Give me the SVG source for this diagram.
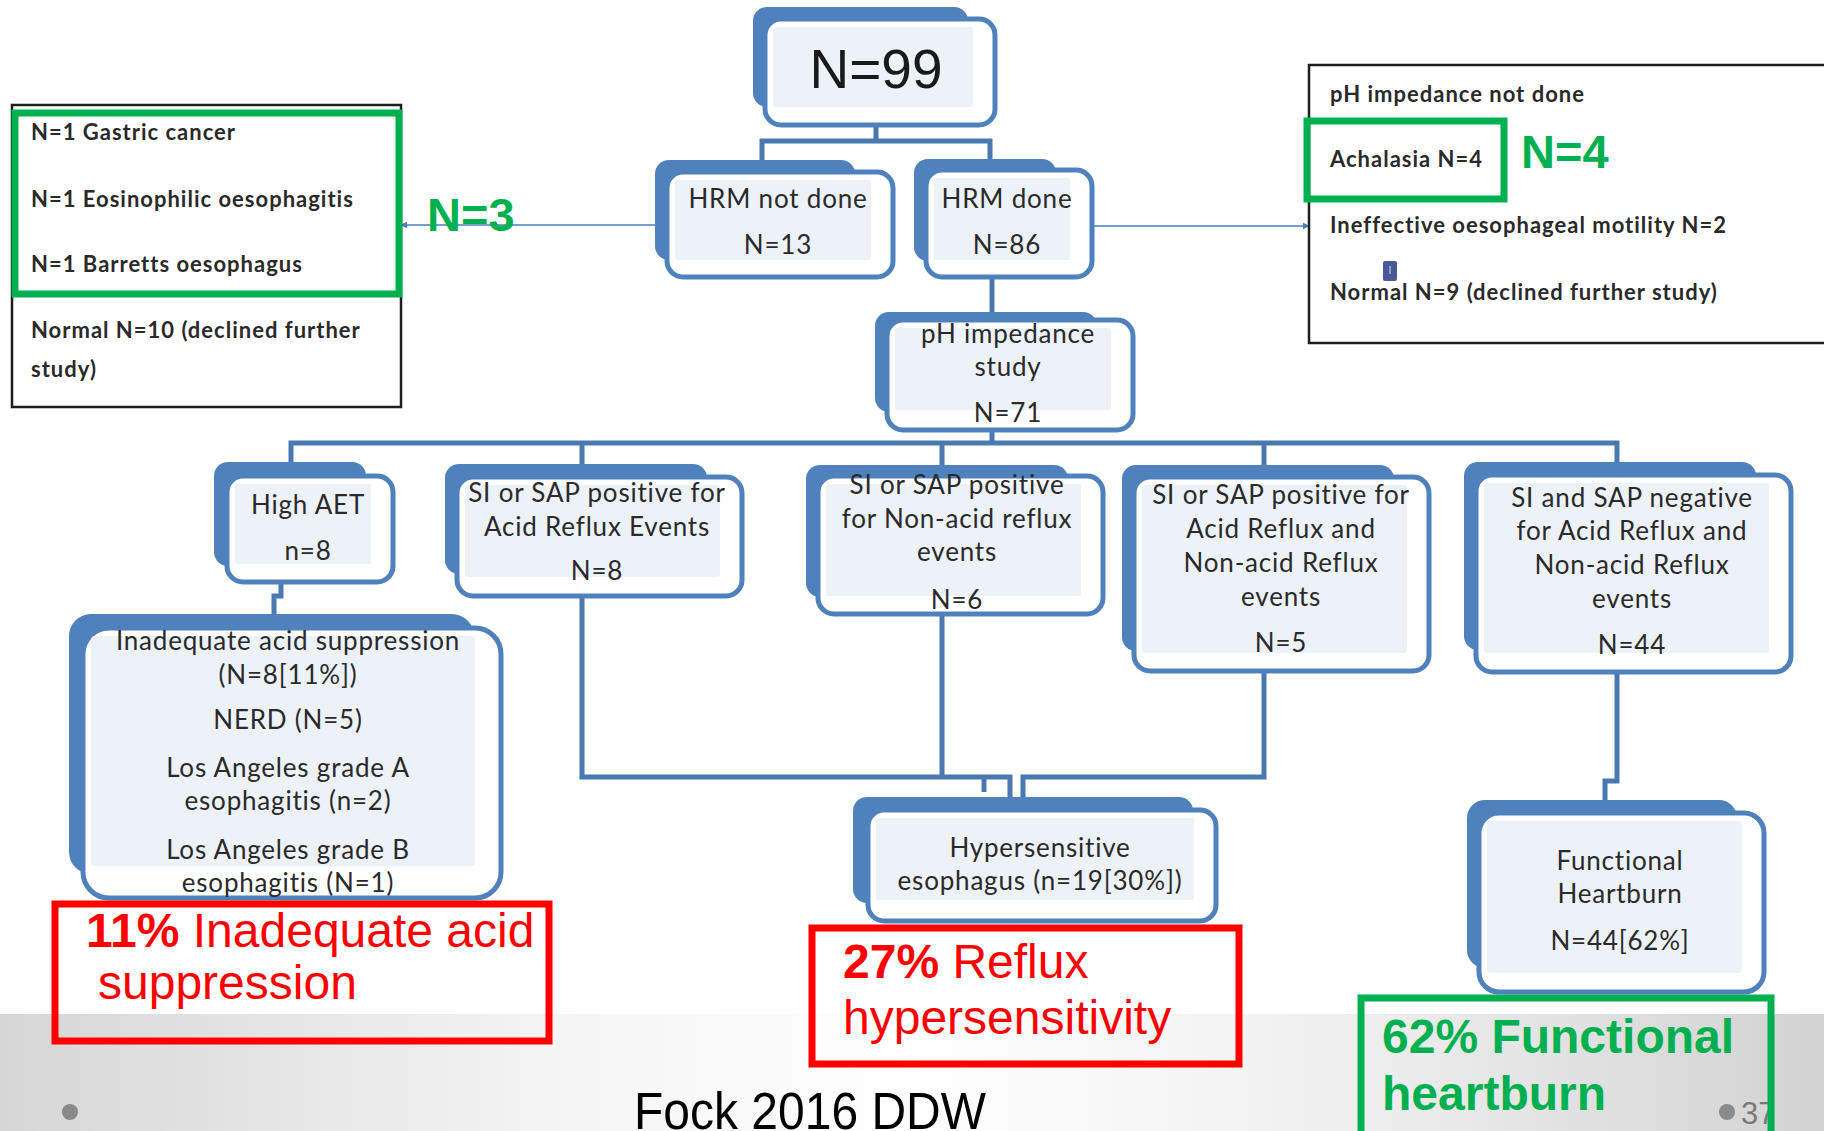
<svg xmlns="http://www.w3.org/2000/svg" width="1824" height="1131" viewBox="0 0 1824 1131">
<defs>
<linearGradient id="band" x1="0" y1="0" x2="1" y2="0">
<stop offset="0" stop-color="#d6d6d6"/>
<stop offset="0.3" stop-color="#f4f4f4"/>
<stop offset="0.5" stop-color="#ffffff"/>
<stop offset="0.75" stop-color="#eeeeee"/>
<stop offset="1" stop-color="#d2d2d2"/>
</linearGradient>
<marker id="arr" viewBox="0 0 10 10" refX="9" refY="5" markerWidth="7" markerHeight="7" orient="auto" markerUnits="userSpaceOnUse">
<path d="M0,0 L10,5 L0,10 z" fill="#4a7ebb"/>
</marker>
<style>
.bk{fill:#4f81bd}
.fr{fill:#ffffff;stroke:#4f81bd;stroke-width:5}
.in{fill:#edf1f8}
.nt{font-family:Lato,"Liberation Sans",sans-serif;font-size:26px;letter-spacing:0.8px;fill:#2a2a2a;text-anchor:middle}
.st{font-family:Lato,"Liberation Sans",sans-serif;font-size:22px;letter-spacing:1px;font-weight:bold;fill:#2a2a2a}
.con{fill:none;stroke:#4a78b2;stroke-width:5}
.thin{fill:none;stroke:#4a7ebb;stroke-width:1.6}
.gbox{fill:none;stroke:#00b050;stroke-width:7}
.rbox{fill:none;stroke:#ff0000;stroke-width:7}
.gt{font-family:"Liberation Sans",Arial,sans-serif;font-weight:bold;fill:#00b050}
.rt{font-family:"Liberation Sans",Arial,sans-serif;font-size:48px;fill:#ff0000}
</style>
</defs>

<rect x="0" y="0" width="1824" height="1131" fill="#ffffff"/>
<rect x="0" y="1014" width="1824" height="117" fill="url(#band)"/>

<g id="connectors">
<path class="con" d="M876,125 V141 M762,160 V141 H990 V160"/>
<path class="con" d="M992,277 V314"/>
<path class="con" d="M992,430 V443 M291,463 V443 H1617 V463 M582,443 V464 M942,443 V466 M1264,443 V466"/>
<path class="con" d="M281,582 V596 H274 V617"/>
<path class="con" d="M582,596 V777 H1010 V797 M942,614 V777 M984,777 V792"/>
<path class="con" d="M1264,671 V777 H1023 V797"/>
<path class="con" d="M1617,672 V781 H1605 V801"/>
<path class="thin" d="M655,225 H401" marker-end="url(#arr)"/>
<path class="thin" d="M1092,226 H1309" marker-end="url(#arr)"/>
</g>

<g id="n99">
<rect class="bk" x="753" y="7" width="215" height="100" rx="14"/>
<rect class="fr" x="765" y="19" width="230" height="106" rx="16"/>
<rect class="in" x="773" y="27" width="200" height="80" rx="3"/>
<text x="876" y="88" font-family="'Liberation Sans',Arial,sans-serif" font-size="55" fill="#1a1a1a" text-anchor="middle">N=99</text>
</g>

<g id="hrm_not_done">
<rect class="bk" x="655" y="160" width="200" height="100" rx="14"/>
<rect class="fr" x="667" y="172" width="226" height="105" rx="16"/>
<rect class="in" x="675" y="180" width="196" height="80" rx="3"/>
<text class="nt" x="778" y="208">HRM not done</text>
<text class="nt" x="778" y="254">N=13</text>
</g>

<g id="hrm_done">
<rect class="bk" x="914" y="159" width="142" height="102" rx="14"/>
<rect class="fr" x="926" y="170" width="166" height="107" rx="16"/>
<rect class="in" x="934" y="178" width="136" height="82" rx="3"/>
<text class="nt" x="1007" y="208">HRM done</text>
<text class="nt" x="1007" y="254">N=86</text>
</g>

<g id="ph_study">
<rect class="bk" x="875" y="312" width="222" height="100" rx="14"/>
<rect class="fr" x="887" y="320" width="246" height="110" rx="16"/>
<rect class="in" x="895" y="328" width="216" height="82" rx="3"/>
<text class="nt" x="1008" y="343">pH impedance</text>
<text class="nt" x="1008" y="376">study</text>
<text class="nt" x="1008" y="422">N=71</text>
</g>

<g id="high_aet">
<rect class="bk" x="214" y="462" width="152" height="104" rx="14"/>
<rect class="fr" x="227" y="476" width="166" height="106" rx="16"/>
<rect class="in" x="235" y="484" width="136" height="80" rx="3"/>
<text class="nt" x="308" y="514">High AET</text>
<text class="nt" x="308" y="560">n=8</text>
</g>

<g id="sap_acid">
<rect class="bk" x="445" y="464" width="262" height="110" rx="14"/>
<rect class="fr" x="457" y="477" width="285" height="119" rx="16"/>
<rect class="in" x="465" y="485" width="255" height="92" rx="3"/>
<text class="nt" x="597" y="502">SI or SAP positive for</text>
<text class="nt" x="597" y="536">Acid Reflux Events</text>
<text class="nt" x="597" y="580">N=8</text>
</g>

<g id="sap_nonacid">
<rect class="bk" x="806" y="465" width="262" height="132" rx="14"/>
<rect class="fr" x="818" y="476" width="285" height="138" rx="16"/>
<rect class="in" x="826" y="484" width="255" height="112" rx="3"/>
<text class="nt" x="957" y="494">SI or SAP positive</text>
<text class="nt" x="957" y="528">for Non-acid reflux</text>
<text class="nt" x="957" y="561">events</text>
<text class="nt" x="957" y="609">N=6</text>
</g>

<g id="sap_both">
<rect class="bk" x="1122" y="465" width="272" height="186" rx="14"/>
<rect class="fr" x="1134" y="477" width="295" height="194" rx="16"/>
<rect class="in" x="1142" y="485" width="265" height="168" rx="3"/>
<text class="nt" x="1281" y="504">SI or SAP positive for</text>
<text class="nt" x="1281" y="538">Acid Reflux  and</text>
<text class="nt" x="1281" y="572">Non-acid Reflux</text>
<text class="nt" x="1281" y="606">events</text>
<text class="nt" x="1281" y="652">N=5</text>
</g>

<g id="sap_neg">
<rect class="bk" x="1464" y="462" width="292" height="188" rx="14"/>
<rect class="fr" x="1476" y="475" width="315" height="197" rx="16"/>
<rect class="in" x="1484" y="483" width="285" height="170" rx="3"/>
<text class="nt" x="1632" y="507">SI and SAP negative</text>
<text class="nt" x="1632" y="540">for Acid Reflux and</text>
<text class="nt" x="1632" y="574">Non-acid Reflux</text>
<text class="nt" x="1632" y="608">events</text>
<text class="nt" x="1632" y="654">N=44</text>
</g>

<g id="inadequate">
<rect class="bk" x="69" y="614" width="405" height="260" rx="22"/>
<rect class="fr" x="83" y="628" width="418" height="270" rx="26"/>
<rect class="in" x="91" y="636" width="384" height="230" rx="4"/>
<text class="nt" x="288" y="650">Inadequate acid suppression</text>
<text class="nt" x="288" y="684">(N=8[11%])</text>
<text class="nt" x="288" y="729">NERD (N=5)</text>
<text class="nt" x="288" y="777">Los Angeles grade A</text>
<text class="nt" x="288" y="810">esophagitis  (n=2)</text>
<text class="nt" x="288" y="859">Los Angeles  grade B</text>
<text class="nt" x="288" y="892">esophagitis  (N=1)</text>
</g>

<g id="hypersensitive">
<rect class="bk" x="853" y="797" width="340" height="106" rx="14"/>
<rect class="fr" x="868" y="810" width="348" height="111" rx="16"/>
<rect class="in" x="876" y="818" width="318" height="82" rx="3"/>
<text class="nt" x="1040" y="857">Hypersensitive</text>
<text class="nt" x="1040" y="890">esophagus  (n=19[30%])</text>
</g>

<g id="functional">
<rect class="bk" x="1467" y="800" width="270" height="168" rx="18"/>
<rect class="fr" x="1479" y="813" width="285" height="179" rx="20"/>
<rect class="in" x="1487" y="821" width="255" height="152" rx="4"/>
<text class="nt" x="1620" y="870">Functional</text>
<text class="nt" x="1620" y="903">Heartburn</text>
<text class="nt" x="1620" y="950">N=44[62%]</text>
</g>

<g id="left_box">
<rect x="12" y="105" width="389" height="302" fill="#ffffff" stroke="#1e1e1e" stroke-width="2.5"/>
<text class="st" x="31" y="140">N=1 Gastric cancer</text>
<text class="st" x="31" y="207">N=1 Eosinophilic  oesophagitis</text>
<text class="st" x="31" y="272">N=1 Barretts  oesophagus</text>
<text class="st" x="31" y="338">Normal N=10 (declined further</text>
<text class="st" x="31" y="377">study)</text>
<rect class="gbox" x="15" y="113" width="384" height="181"/>
<text class="gt" x="427" y="231" font-size="47">N=3</text>
</g>

<g id="right_box">
<rect x="1309" y="65" width="530" height="278" fill="#ffffff" stroke="#1e1e1e" stroke-width="2.5"/>
<text class="st" x="1330" y="102">pH impedance  not done</text>
<text class="st" x="1330" y="167">Achalasia N=4</text>
<text class="st" x="1330" y="233">Ineffective oesophageal  motility N=2</text>
<rect x="1383" y="261" width="14" height="20" rx="2" fill="#4a5896"/>
<rect x="1389" y="266" width="2" height="8" fill="#8f9cd0"/>
<text class="st" x="1330" y="300">Normal N=9 (declined further  study)</text>
<rect class="gbox" x="1307" y="121" width="197" height="78"/>
<text class="gt" x="1521" y="168" font-size="47">N=4</text>
</g>

<g id="footer">
<circle cx="70" cy="1112" r="8" fill="#8a8a8a"/>
<text x="634" y="1129" font-family="'Liberation Sans',Arial,sans-serif" font-size="51" fill="#000000" textLength="352" lengthAdjust="spacingAndGlyphs">Fock 2016 DDW</text>
<circle cx="1727" cy="1112" r="8" fill="#8a8a8a"/>
<text x="1741" y="1124" font-family="'Liberation Sans',Arial,sans-serif" font-size="31" fill="#7a7a7a">37</text>
</g>

<g id="red_box_1">
<rect class="rbox" x="55" y="904" width="494" height="137"/>
<text class="rt" x="86" y="947"><tspan font-weight="bold">11%</tspan> Inadequate acid</text>
<text class="rt" x="98" y="999">suppression</text>
</g>

<g id="red_box_2">
<rect class="rbox" x="812" y="928" width="427" height="136"/>
<text class="rt" x="843" y="978"><tspan font-weight="bold">27%</tspan> Reflux</text>
<text class="rt" x="843" y="1034">hypersensitivity</text>
</g>

<g id="green_box">
<rect class="gbox" x="1361" y="998" width="410" height="140"/>
<text class="gt" x="1382" y="1053" font-size="48">62% Functional</text>
<text class="gt" x="1382" y="1110" font-size="48">heartburn</text>
</g>
</svg>
